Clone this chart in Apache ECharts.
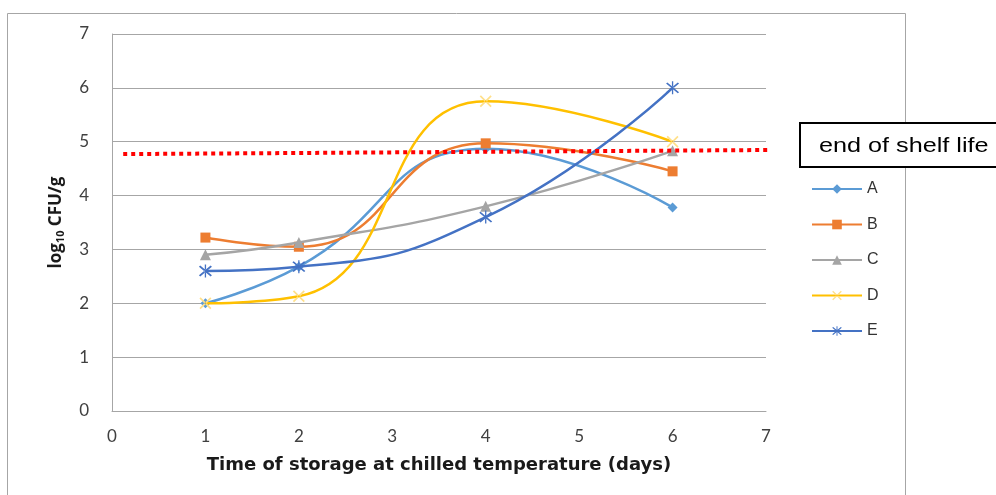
<!DOCTYPE html>
<html>
<head>
<meta charset="utf-8">
<script src="https://cdn.jsdelivr.net/npm/echarts@6/dist/echarts.min.js"></script>
<style>html,body{margin:0;padding:0;background:#fff;}#c{width:996px;height:495px;}</style>
</head>
<body>
<div id="c"></div>
<script>
const days = [1, 2, 4, 6];
const seriesA = [2.0, 2.68, 4.87, 3.78];
const seriesB = [3.22, 3.05, 4.97, 4.45];
const seriesC = [2.9, 3.13, 3.8, 4.83];
const seriesD = [2.0, 2.13, 5.75, 5.0];
const seriesE = [2.6, 2.68, 3.6, 6.0];
const names = ['A', 'B', 'C', 'D', 'E'];
const shelfLineX = [0.12, 7.36];
const shelfLineY = [4.77, 4.85];
const xTicks = [0, 1, 2, 3, 4, 5, 6, 7];
const yTicks = [0, 1, 2, 3, 4, 5, 6, 7];
const boxLabel = 'end of shelf life';

const colors = ['#5B9BD5', '#ED7D31', '#A5A5A5', '#FFC000', '#4472C4'];
const xPath = 'path://M0,1 L1,0 L10,9 L9,10 Z M10,1 L9,0 L0,9 L1,10 Z';
const starPath = 'path://M0,1 L1,0 L10,9 L9,10 Z M10,1 L9,0 L0,9 L1,10 Z M4.5,-1 L5.5,-1 L5.5,11 L4.5,11 Z';
const symbols = ['diamond', 'rect', 'triangle', xPath, starPath];
const symbolSizes = [10, 10, 11, 12, 13];
const vals = [seriesA, seriesB, seriesC, seriesD, seriesE];

const chart = echarts.init(document.getElementById('c'));
const series = names.map((n, i) => ({
  name: n,
  type: 'line',
  smooth: 0.5,
  data: days.map((d, j) => [d, vals[i][j]]),
  symbol: symbols[i],
  symbolSize: symbolSizes[i],
  showAllSymbol: true,
  lineStyle: {color: colors[i], width: 2.5},
  itemStyle: {color: i === 3 ? '#FFE08A' : colors[i]},
  z: 3 + i
}));
series.push({
  name: 'shelf',
  type: 'line',
  data: shelfLineX.map((x, i) => [x, shelfLineY[i]]),
  symbol: 'none',
  clip: false,
  lineStyle: {color: '#FF0000', width: 4, type: [4, 4]},
  z: 10,
  silent: true
});

const labelFont = {fontFamily: 'Lato', fontSize: 17, color: '#404040'};
chart.setOption({
  animation: false,
  color: colors,
  grid: {left: 112, right: 230, top: 34, bottom: 84},
  xAxis: {
    type: 'value', min: xTicks[0], max: xTicks[xTicks.length - 1], interval: 1,
    axisLine: {show: true, lineStyle: {color: '#A6A6A6', width: 1}},
    axisTick: {show: false},
    splitLine: {show: false},
    axisLabel: Object.assign({margin: 17}, labelFont),
    name: 'Time of storage at chilled temperature (days)',
    nameLocation: 'middle', nameGap: 45,
    nameTextStyle: {fontFamily: 'DejaVu Sans', fontWeight: 'bold', fontSize: 18, color: '#1a1a1a'}
  },
  yAxis: {
    type: 'value', min: yTicks[0], max: yTicks[yTicks.length - 1], interval: 1,
    axisLine: {show: true, lineStyle: {color: '#A6A6A6', width: 1}},
    axisTick: {show: false},
    splitLine: {show: true, lineStyle: {color: '#A6A6A6', width: 1}},
    axisLabel: Object.assign({margin: 23}, labelFont),
    name: '{a|log}{s|10}{a| CFU/g}',
    nameLocation: 'middle', nameGap: 46,
    nameTextStyle: {
      rich: {
        a: {fontFamily: 'Open Sans', fontWeight: 'bold', fontSize: 17, color: '#1a1a1a'},
        s: {fontFamily: 'Open Sans', fontWeight: 'bold', fontSize: 11, color: '#1a1a1a', padding: [8, 0, 0, 0]}
      }
    }
  },
  legend: {
    data: names,
    orient: 'vertical',
    left: 806, top: 176,
    itemWidth: 50, itemHeight: 12, itemGap: 19.5,
    textStyle: {fontFamily: 'Liberation Sans', fontSize: 16, color: '#333'}
  },
  graphic: [
    {type: 'rect', shape: {x: 7.5, y: 13.5, width: 898, height: 500}, style: {fill: null, stroke: '#A6A6A6', lineWidth: 1}, silent: true, z: 0},
    {type: 'rect', shape: {x: 800, y: 123, width: 210, height: 44}, style: {fill: '#fff', stroke: '#000', lineWidth: 2}, z: 100},
    {type: 'text', x: 819, y: 146, scaleX: 1.2, style: {text: boxLabel, fontFamily: 'Liberation Sans', fontSize: 21, fill: '#000', verticalAlign: 'middle'}, z: 101}
  ],
  series: series
});
</script>
</body>
</html>
